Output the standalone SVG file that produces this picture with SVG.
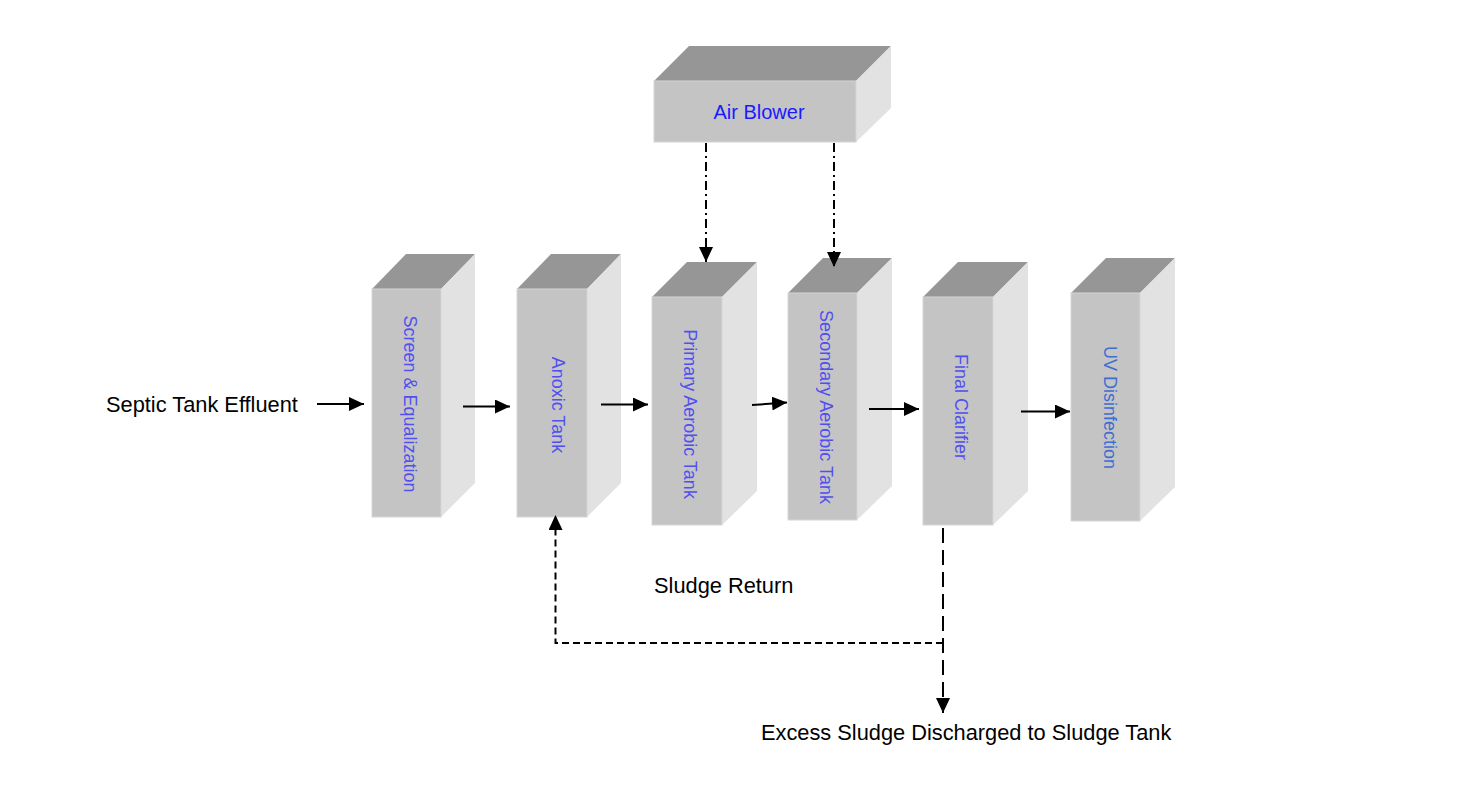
<svg xmlns="http://www.w3.org/2000/svg" width="1476" height="792" viewBox="0 0 1476 792">
<style>
.front{fill:#c4c4c4;stroke:#d6d6d6;stroke-width:1}
.top{fill:#969696}
.side{fill:#e2e2e2}
.vt{font-family:"Liberation Sans",Arial,sans-serif;font-size:18px;fill:#5050f0;text-anchor:middle}
.lbl{font-family:"Liberation Sans",Arial,sans-serif;font-size:21.8px;fill:#000}
.flow{stroke:#000;stroke-width:2;fill:none}
</style>
<defs>
<marker id="ah" markerUnits="userSpaceOnUse" markerWidth="16" markerHeight="15" refX="15" refY="7" orient="auto" viewBox="0 0 16 15">
<path d="M0,0 L15,7 L0,14 z" fill="#000" stroke="none"/>
</marker>
</defs>
<rect width="1476" height="792" fill="#fff"/>

<g id="air-blower">
<polygon class="top" points="654,81 856,81 891,46 689,46"/>
<polygon class="side" points="856,81 891,46 891,108 856,142"/>
<rect class="front" x="654" y="81" width="202" height="61"/>
<text x="759" y="119" text-anchor="middle" style="font-family:'Liberation Sans',Arial,sans-serif;font-size:20px;fill:#1a1aff">Air Blower</text>
</g>

<g id="screen">
<polygon class="top" points="372,289 441,289 475,254 406,254"/>
<polygon class="side" points="441,289 475,254 475,483 441,517"/>
<rect class="front" x="372" y="289" width="69" height="228"/>
<text class="vt" transform="translate(403.5,404) rotate(90)">Screen &amp; Equalization</text>
</g>

<g id="anoxic">
<polygon class="top" points="517,289 587,289 621,254 551,254"/>
<polygon class="side" points="587,289 621,254 621,483 587,517"/>
<rect class="front" x="517" y="289" width="70" height="228"/>
<text class="vt" transform="translate(551.5,405) rotate(90)">Anoxic Tank</text>
</g>

<g id="primary">
<polygon class="top" points="652,297 722,297 757,262 687,262"/>
<polygon class="side" points="722,297 757,262 757,491 722,525"/>
<rect class="front" x="652" y="297" width="70" height="228"/>
<text class="vt" transform="translate(683.5,414) rotate(90)">Primary Aerobic Tank</text>
</g>

<g id="secondary">
<polygon class="top" points="788,293 857,293 892,258 823,258"/>
<polygon class="side" points="857,293 892,258 892,486 857,520"/>
<rect class="front" x="788" y="293" width="69" height="227"/>
<text class="vt" transform="translate(819.5,407) rotate(90)">Secondary Aerobic Tank</text>
</g>

<g id="clarifier">
<polygon class="top" points="923,297 993,297 1028,262 958,262"/>
<polygon class="side" points="993,297 1028,262 1028,491 993,525"/>
<rect class="front" x="923" y="297" width="70" height="228"/>
<text class="vt" transform="translate(955,407) rotate(90)">Final Clarifier</text>
</g>

<g id="uv">
<polygon class="top" points="1071,293 1140,293 1175,258 1106,258"/>
<polygon class="side" points="1140,293 1175,258 1175,487 1140,521"/>
<rect class="front" x="1071" y="293" width="69" height="228"/>
<text class="vt" style="fill:#3e6ed2" transform="translate(1104,407.5) rotate(90)">UV Disinfection</text>
</g>

<g id="labels">
<text class="lbl" x="106" y="411.5">Septic Tank Effluent</text>
<text class="lbl" x="654" y="593">Sludge Return</text>
<text class="lbl" x="761" y="739.5">Excess Sludge Discharged to Sludge Tank</text>
</g>

<g id="connectors">
<line class="flow" x1="317" y1="404" x2="364" y2="404" marker-end="url(#ah)"/>
<line class="flow" x1="463" y1="406.5" x2="510" y2="406.5" marker-end="url(#ah)"/>
<line class="flow" x1="601" y1="404.5" x2="648" y2="404.5" marker-end="url(#ah)"/>
<line class="flow" x1="752" y1="405" x2="787" y2="402.5" marker-end="url(#ah)"/>
<line class="flow" x1="869" y1="409" x2="919" y2="409" marker-end="url(#ah)"/>
<line class="flow" x1="1021" y1="411.5" x2="1070" y2="411.5" marker-end="url(#ah)"/>
<line class="flow" x1="706" y1="143" x2="706" y2="262" stroke-dasharray="9,4,2,4" marker-end="url(#ah)"/>
<line class="flow" x1="834" y1="143" x2="834" y2="267" stroke-dasharray="9,4,2,4" marker-end="url(#ah)"/>
<line class="flow" x1="943" y1="528" x2="943" y2="713" stroke-dasharray="15,7" marker-end="url(#ah)"/>
<path class="flow" d="M943,643 H555.5 V515" stroke-width="1.6" stroke-dasharray="7,4" marker-end="url(#ah)"/>
</g>
</svg>
